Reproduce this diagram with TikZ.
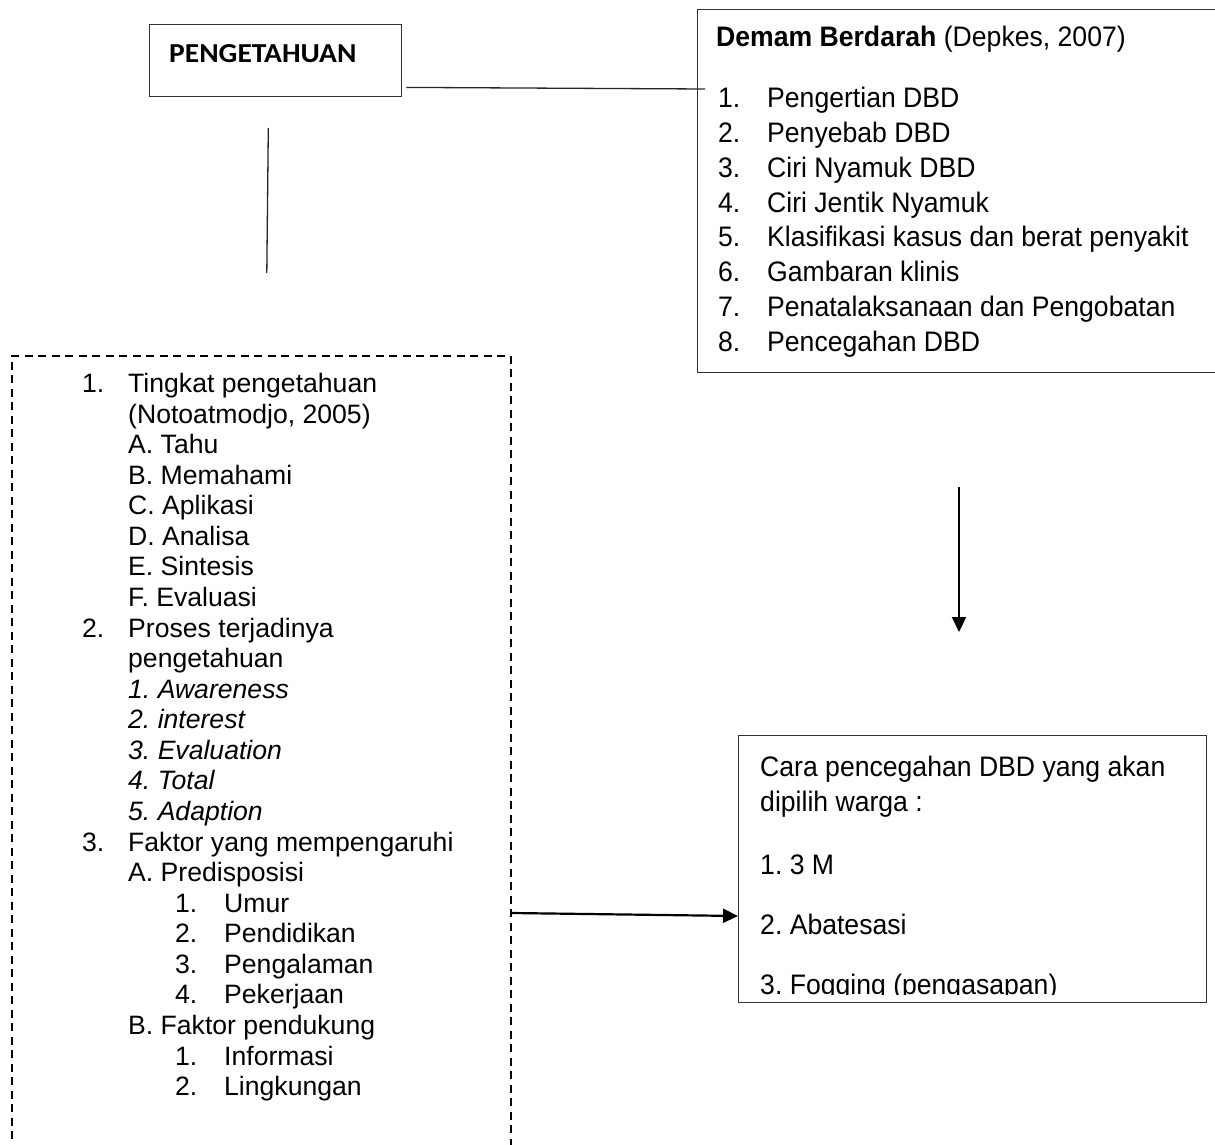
\documentclass[tikz,border=0pt]{standalone}
\usepackage{fontspec}
\setmainfont{Liberation Sans}
\newfontfamily\calib{Carlito}
\usetikzlibrary{arrows.meta,calc}
\frenchspacing
\tikzset{
  box/.style={draw=black!80, line width=1.4pt, inner sep=0pt, anchor=north west},
  dbox/.style={draw=black, line width=1.8pt, dash pattern=on 8pt off 5.5pt, inner sep=0pt, anchor=north west},
  txt/.style={inner sep=0pt, anchor=base west, font=\fontsize{26.6}{30.6}\selectfont},
  thinline/.style={line width=1.3pt, draw=black!85},
  arr/.style={line width=2.2pt, -{Triangle[length=15pt,width=14pt]}},
}
\newcommand\numA[1]{\makebox[46pt][l]{#1}}
\newcommand\numB[1]{\hspace*{93pt}\makebox[49pt][l]{#1}}
\newcommand\indA{\hspace*{46pt}}
\newcommand\tall[1]{\scalebox{1}[1.06]{#1}}
\begin{document}
\begin{tikzpicture}[x=1pt,y=-1pt]
\useasboundingbox (0,0) rectangle (1215,1145);
\clip (0,0) rectangle (1215,1145);
\fill[white] (0,0) rectangle (1215,1145);

% PENGETAHUAN box
\node[box, minimum width=252pt, minimum height=72pt] (peng) at (149,24) {};
\node[inner sep=0pt, anchor=base west, font=\calib\bfseries\fontsize{29.5}{32}\selectfont] (pengt) at (169,63) {\scalebox{1}[0.93]{PENGETAHUAN}};

% Demam Berdarah box
\node[box, minimum width=540pt, minimum height=363pt] (dbd) at (697,9) {};
\node[txt] (dbdt) at (716,47) {\tall{\textbf{Demam Berdarah} (Depkes, 2007)}};
\node[txt] (dbdl) at (718,107.5) {\tall{\begin{minipage}[t]{490pt}\fontsize{26.6}{32.9}\selectfont\setlength\parindent{0pt}%
\makebox[49pt][l]{1.}Pengertian DBD\\
\makebox[49pt][l]{2.}Penyebab DBD\\
\makebox[49pt][l]{3.}Ciri Nyamuk DBD\\
\makebox[49pt][l]{4.}Ciri Jentik Nyamuk\\
\makebox[49pt][l]{5.}Klasifikasi kasus dan berat penyakit\\
\makebox[49pt][l]{6.}Gambaran klinis\\
\makebox[49pt][l]{7.}Penatalaksanaan dan Pengobatan\\
\makebox[49pt][l]{8.}Pencegahan DBD
\end{minipage}}};

% dashed left box
\node[dbox, minimum width=499pt, minimum height=805pt] (lbox) at (11,355) {};
\node[txt] (lboxt) at (82,392.5) {\begin{minipage}[t]{420pt}\fontsize{26.6}{30.57}\selectfont\setlength\parindent{0pt}%
\numA{1.}Tingkat pengetahuan\\
\indA(Notoatmodjo, 2005)\\
\indA A. Tahu\\
\indA B. Memahami\\
\indA C. Aplikasi\\
\indA D. Analisa\\
\indA E. Sintesis\\
\indA F. Evaluasi\\
\numA{2.}Proses terjadinya\\
\indA pengetahuan\\
\indA\textit{1. Awareness}\\
\indA\textit{2. interest}\\
\indA\textit{3. Evaluation}\\
\indA\textit{4. Total}\\
\indA\textit{5. Adaption}\\
\numA{3.}Faktor yang mempengaruhi\\
\indA A. Predisposisi\\
\numB{1.}Umur\\
\numB{2.}Pendidikan\\
\numB{3.}Pengalaman\\
\numB{4.}Pekerjaan\\
\indA B. Faktor pendukung\\
\numB{1.}Informasi\\
\numB{2.}Lingkungan
\end{minipage}};

% Cara pencegahan box
\node[box, minimum width=468pt, minimum height=267pt] (cara) at (738,735) {};
\node[txt] (cara1) at (760,776) {\tall{Cara pencegahan DBD yang akan}};
\node[txt] (cara2) at (760,811) {\tall{dipilih warga :}};
\node[txt] (cara3) at (760,874) {\tall{1. 3 M}};
\node[txt] (cara4) at (760,934) {\tall{2. Abatesasi}};
\begin{scope}
  \clip (739,950) rectangle (1205,994);
  \node[txt] (cara5) at (760,994.5) {\tall{3. Fogging (pengasapan)}};
\end{scope}

% connectors
\draw[thinline] ([xshift=4pt,yshift=10pt]peng.south east) -- ($(dbd.north west)+(8,80)$);
\coordinate (v1) at (268.3,128);
\coordinate (v2) at (266.8,273);
\draw[thinline] (v1) -- (v2);
\coordinate (d1) at (959,487);
\coordinate (d2) at (959,632);
\draw[arr] (d1) -- (d2);
\draw[arr] (lbox.east |- 0,913) -- (cara.west |- 0,916);
\end{tikzpicture}
\end{document}
